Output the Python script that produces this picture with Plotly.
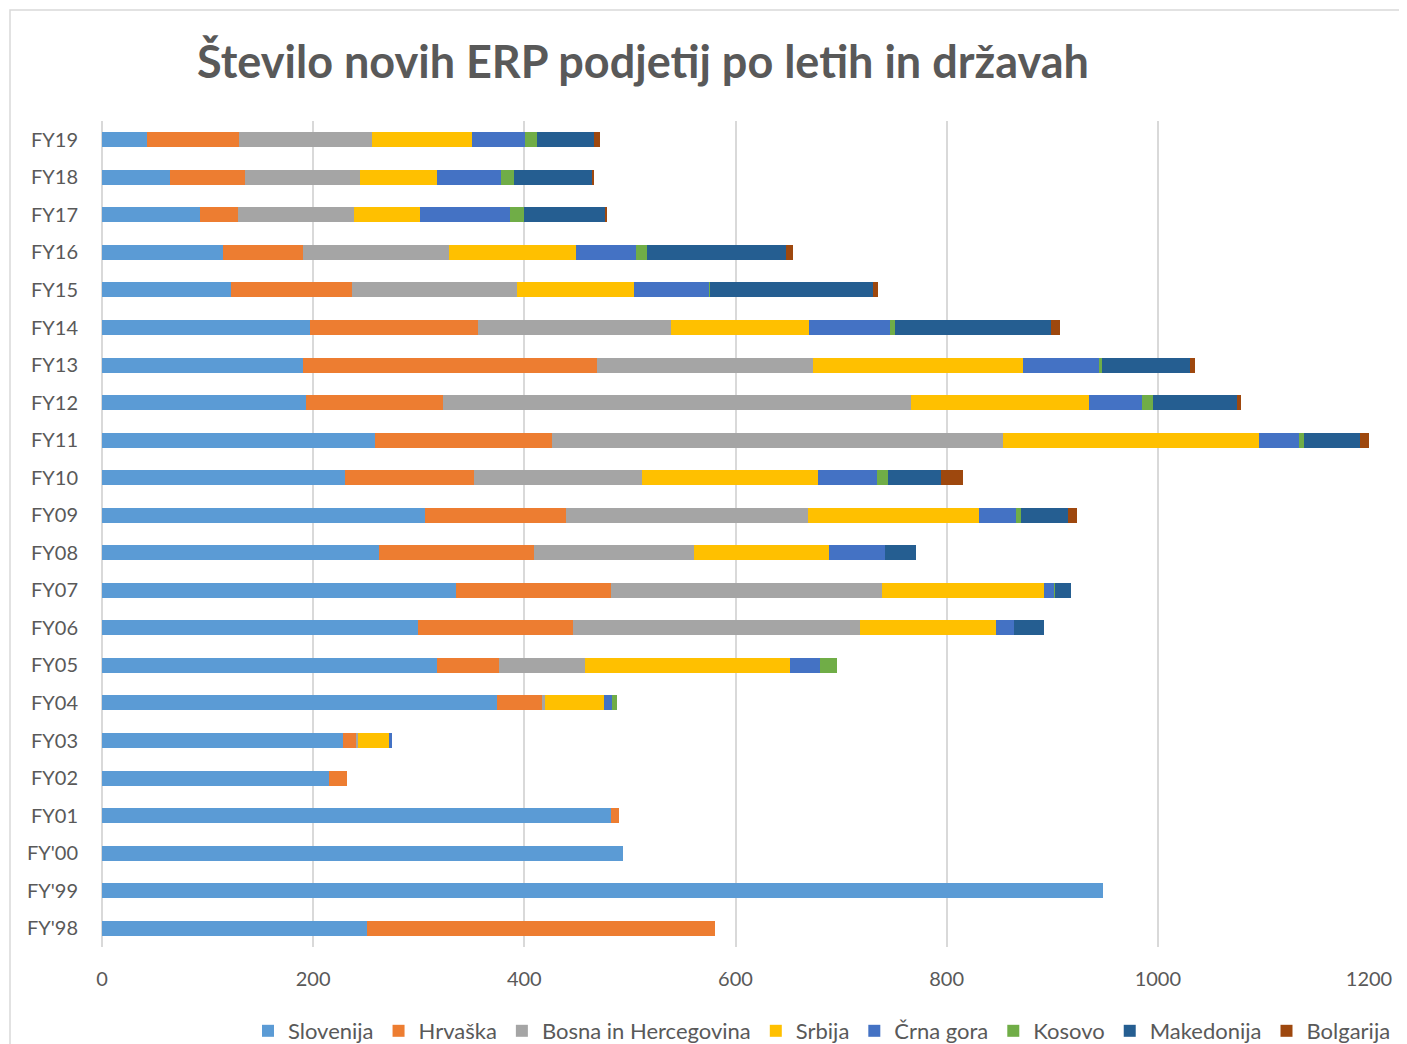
import plotly.graph_objects as go

categories = ["FY'98", "FY'99", "FY'00", "FY01", "FY02", "FY03", "FY04", "FY05", "FY06", "FY07", "FY08",
              "FY09", "FY10", "FY11", "FY12", "FY13", "FY14", "FY15", "FY16", "FY17", "FY18", "FY19"]

slovenija = [251, 948, 493, 482, 215, 228, 374, 317, 299, 335, 262, 306, 230, 259, 193, 190, 197, 122, 115, 93, 64, 43]
hrvaska = [330, 0, 0, 8, 17, 13, 43, 59, 147, 147, 147, 133, 122, 167, 130, 279, 159, 115, 75, 36, 71, 87]
bih = [0, 0, 0, 0, 0, 1, 3, 81, 272, 257, 152, 230, 159, 427, 443, 204, 183, 156, 139, 110, 109, 126]
srbija = [0, 0, 0, 0, 0, 30, 55, 195, 129, 153, 128, 162, 167, 243, 169, 199, 131, 111, 120, 62, 73, 94]
crna_gora = [0, 0, 0, 0, 0, 3, 8, 28, 17, 10, 53, 35, 56, 38, 50, 72, 76, 71, 57, 85, 61, 51]
kosovo = [0, 0, 0, 0, 0, 0, 5, 16, 0, 1, 0, 4, 10, 4, 10, 3, 5, 1, 10, 14, 12, 11]
makedonija = [0, 0, 0, 0, 0, 0, 0, 0, 28, 15, 29, 45, 51, 53, 80, 83, 148, 154, 132, 76, 75, 54]
bolgarija = [0, 0, 0, 0, 0, 0, 0, 0, 0, 0, 0, 8, 20, 9, 4, 5, 8, 5, 6, 2, 1, 6]

series_names = ["Slovenija", "Hrvaška", "Bosna in Hercegovina", "Srbija", "Črna gora", "Kosovo", "Makedonija", "Bolgarija"]
series_values = [slovenija, hrvaska, bih, srbija, crna_gora, kosovo, makedonija, bolgarija]
colors = ["#5B9BD5", "#ED7D31", "#A5A5A5", "#FFC000", "#4472C4", "#70AD47", "#255E91", "#9E480E"]

FONT = "Lato"
GREY = "#595959"

fig = go.Figure()
for name, vals, col in zip(series_names, series_values, colors):
    fig.add_trace(go.Bar(
        y=categories, x=vals, name=name, orientation="h",
        marker=dict(color=col, line=dict(width=0)),
    ))

OFF = 8  # page body margin
W, H = 1407 - OFF, 1044 - OFF
ml, mt = 102 - OFF, 121 - OFF
plot_r, plot_b = 1369 - OFF, 947 - OFF
mr, mb = W - plot_r, H - plot_b
pw, ph = plot_r - ml, plot_b - mt

fig.update_layout(
    width=W, height=H,
    barmode="stack", bargap=0.6,
    paper_bgcolor="white", plot_bgcolor="white",
    margin=dict(l=ml, r=mr, t=mt, b=mb, autoexpand=False),
    font=dict(family=FONT, color=GREY, size=20),
    title=dict(text="<b>Število novih ERP podjetij po letih in državah</b>",
               x=(643 - OFF) / W, xref="container", xanchor="center",
               y=1 - (62 - OFF) / H, yref="container", yanchor="middle",
               font=dict(family=FONT, size=45, color=GREY)),
    xaxis=dict(range=[0, 1200], dtick=200, showgrid=True, gridcolor="#D9D9D9", gridwidth=1.5,
               zeroline=True, zerolinecolor="#D9D9D9", zerolinewidth=1.5,
               showline=False, ticks="outside", ticklen=14, tickcolor="rgba(0,0,0,0)",
               tickfont=dict(family=FONT, size=20, color=GREY)),
    yaxis=dict(type="category", categoryorder="array", categoryarray=categories,
               showgrid=False, showline=False, ticks="outside", ticklen=19, tickcolor="rgba(0,0,0,0)",
               tickfont=dict(family=FONT, size=20, color=GREY)),
    legend=dict(orientation="h", x=(822 - OFF) / W, xref="container", xanchor="center",
                y=1 - (1031 - OFF) / H, yref="container", yanchor="middle",
                font=dict(family=FONT, size=22, color=GREY),
                itemwidth=30, traceorder="normal", tracegroupgap=0),
    shapes=[dict(type="rect", xref="paper", yref="paper",
                 x0=(10 - OFF - ml) / pw, x1=(1430 - ml) / pw,
                 y0=-(1070 - plot_b) / ph, y1=1 + (mt - (10 - OFF)) / ph,
                 line=dict(color="#D9D9D9", width=1.5), layer="below")],
)

fig.write_html("out.html")
